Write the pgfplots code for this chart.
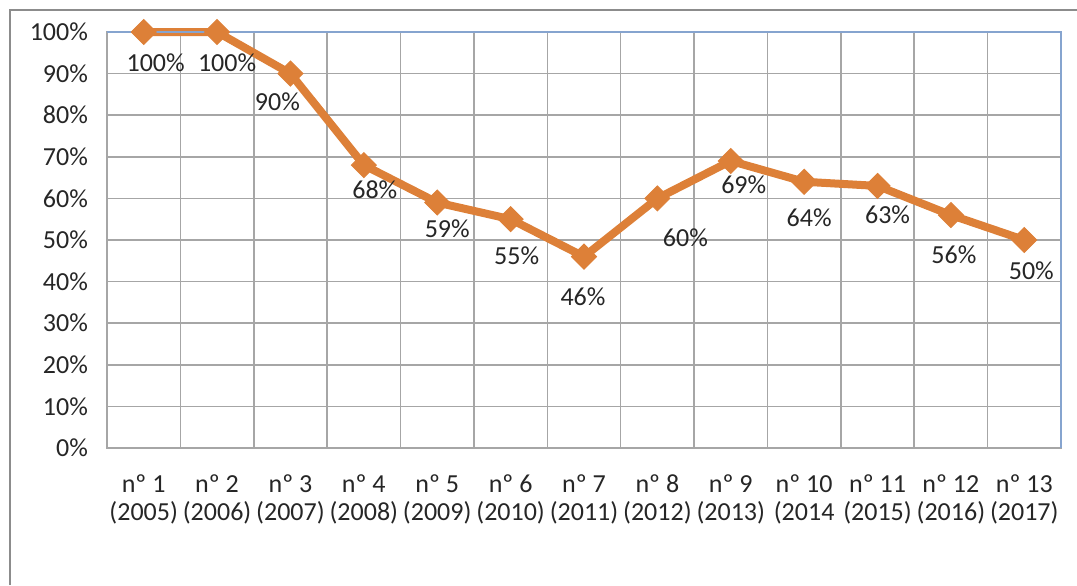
\documentclass[border=0pt]{standalone}
\usepackage{fontspec}
\setmainfont{Carlito}
\usepackage{pgfplots}
\usepackage{pgfplotstable}
\pgfplotsset{compat=1.18}
\definecolor{lineorange}{HTML}{DD8038}
\definecolor{gridgray}{HTML}{A6A6A6}
\definecolor{framegray}{HTML}{8C8C8C}
\definecolor{topblue}{HTML}{86A4CF}
\definecolor{txt}{HTML}{262626}
\pgfplotstableread{
x y dx dy
0 100 12 31
1 100 10 31
2 90 -13 28
3 68 11 25
4 59 10 26
5 55 6 37
6 46 -1 40
7 60 28 39
8 69 13 24
9 64 5 36
10 63 10 29
11 56 3 40
12 50 7 31
}\datatable
\begin{document}
\fontsize{13}{15}\selectfont
\begin{tikzpicture}
\useasboundingbox (-53.5pt,-68.5pt) rectangle (485pt,224pt);
\draw[framegray, line width=1pt] (-48.5pt,-68.5pt) -- (-48.5pt,219pt) -- (485pt,219pt);
\begin{axis}[
  at={(0pt,0pt)}, anchor=south west,
  scale only axis, width=477pt, height=208pt,
  xmin=-0.5, xmax=12.5, ymin=0, ymax=100,
  xtick=data,
  xticklabels={{nº 1\\(2005)},{nº 2\\(2006)},{nº 3\\(2007)},{nº 4\\(2008)},{nº 5\\(2009)},{nº 6\\(2010)},{nº 7\\(2011)},{nº 8\\(2012)},{nº 9\\(2013)},{nº 10\\(2014},{nº 11\\(2015)},{nº 12\\(2016)},{nº 13\\(2017)}},
  xticklabel style={align=center, font=\fontsize{13}{14}\selectfont, text=txt, yshift=-9pt},
  ytick={0,10,...,100},
  yticklabel={\pgfmathprintnumber{\tick}\%},
  yticklabel style={text=txt, font=\fontsize{13}{15}\selectfont, xshift=-5pt},
  /pgf/number format/assume math mode=true,
  major tick length=0pt,
  extra x ticks={0.5,1.5,...,11.5},
  extra x tick labels={},
  extra x tick style={grid=major, major grid style={gridgray, line width=0.8pt}},
  ymajorgrids, major grid style={gridgray, line width=0.8pt},
  axis line style={gridgray, line width=0.8pt},
  clip=false,
]
\addplot[lineorange, line width=4pt, mark=square*, mark size=4.4pt,
  mark options={rotate=45, fill=lineorange, draw=lineorange, line width=0.5pt},
  nodes near coords={\pgfmathprintnumber{\pgfplotspointmeta}\%},
  point meta=explicit,
  visualization depends on={\thisrow{dx}\as\dx},
  visualization depends on={\thisrow{dy}\as\dy},
  every node near coord/.append style={anchor=center, text=txt, font=\fontsize{13}{15}\selectfont, xshift=0.5*\dx pt, yshift=-0.5*\dy pt, /pgf/number format/assume math mode=true},
] table[x=x, y=y, meta=y] {\datatable};
\draw[topblue, line width=0.8pt] (rel axis cs:0,1) -- (rel axis cs:1,1) -- (rel axis cs:1,0);
\end{axis}
\end{tikzpicture}
\end{document}
